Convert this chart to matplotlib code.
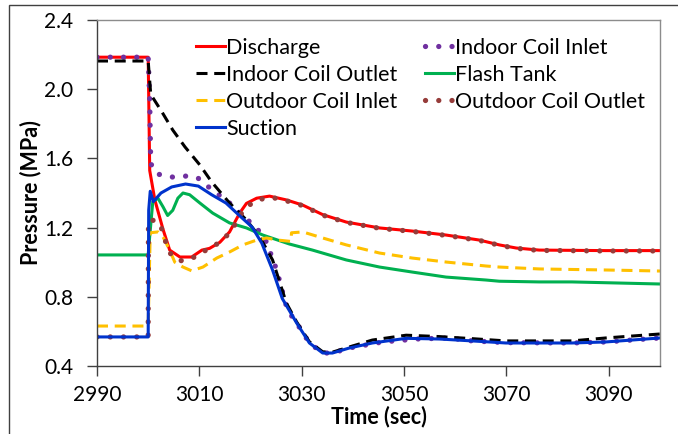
import matplotlib
matplotlib.use("Agg")
import matplotlib.pyplot as plt
from matplotlib.patches import Rectangle

plt.rcParams['font.family'] = ['Lato', 'DejaVu Sans']

# ---- data (time in s, pressure in MPa) ----
t_dis = [2990, 3000, 3000.3, 3001.3, 3002.9, 3004.2, 3006.2, 3008.5, 3010.5, 3012, 3014, 3015.9,
         3017.9, 3019.2, 3021.2, 3023.7, 3027, 3030.2, 3034.1, 3038.7, 3045.2, 3051.6, 3058.2,
         3064.7, 3068.6, 3071.9, 3076.4, 3089.4, 3100]
p_dis = [2.185, 2.185, 1.53, 1.36, 1.19, 1.07, 1.03, 1.03, 1.07, 1.08, 1.115, 1.175,
         1.285, 1.34, 1.37, 1.382, 1.36, 1.33, 1.275, 1.232, 1.198, 1.18, 1.157,
         1.128, 1.10, 1.082, 1.07, 1.067, 1.067]

t_ici = [2990, 3000, 3000.3, 3000.5, 3001.7, 3004.8, 3007.5, 3009.7, 3012, 3015.9, 3017.9, 3021.2,
         3023.1, 3025.1, 3027.2, 3029, 3031.5, 3034.1, 3036, 3039.3, 3045.8, 3052.4, 3058.8,
         3063.3, 3069.9, 3082.8, 3089.4, 3100]
p_ici = [2.185, 2.185, 1.94, 1.57, 1.51, 1.492, 1.498, 1.487, 1.43, 1.342, 1.284, 1.198,
         1.117, 0.955, 0.724, 0.649, 0.533, 0.475, 0.475, 0.504, 0.539, 0.556, 0.562,
         0.545, 0.535, 0.533, 0.539, 0.562]

t_ico = [2990, 3000, 3000.5, 3002.7, 3004.8, 3007.2, 3010.1, 3012.4, 3015.9, 3019.2, 3021.8, 3024.3,
         3027, 3029, 3031.5, 3034.1, 3036, 3039.3, 3043.8, 3050.4, 3056.9, 3063.3, 3069.9,
         3082.8, 3089.4, 3100]
p_ico = [2.163, 2.163, 1.97, 1.868, 1.764, 1.666, 1.562, 1.464, 1.342, 1.244, 1.146, 1.013,
         0.764, 0.655, 0.54, 0.482, 0.48, 0.51, 0.55, 0.578, 0.57, 0.558, 0.545,
         0.545, 0.562, 0.585]

t_ft = [2990, 3000, 3000.3, 3000.9, 3001.9, 3002.9, 3003.8, 3004.8, 3005.8, 3006.8, 3008.1, 3010.1,
        3012.6, 3015.9, 3019.2, 3022.4, 3025.7, 3027.6, 3032.1, 3038.7, 3045.2, 3051.6, 3058.2,
        3066.0, 3068.6, 3076.4, 3082.8, 3100]
p_ft = [1.042, 1.042, 1.15, 1.35, 1.37, 1.32, 1.27, 1.30, 1.37, 1.40, 1.39, 1.342,
        1.284, 1.227, 1.198, 1.157, 1.124, 1.105, 1.07, 1.013, 0.972, 0.943, 0.914,
        0.897, 0.89, 0.886, 0.886, 0.874]

t_oci = [2990, 3000, 3000.4, 3001.9, 3002.9, 3004.2, 3005.2, 3006.8, 3008.5, 3010.7, 3013.4, 3015.9,
         3018.5, 3021.2, 3023.1, 3025.3, 3027.9, 3028.0, 3030.2, 3034.1, 3038.7, 3045.2, 3051.6,
         3058.2, 3066.0, 3068.6, 3076.4, 3089.4, 3100]
p_oci = [0.631, 0.631, 1.17, 1.175, 1.146, 1.07, 1.0, 0.972, 0.95, 0.972, 1.024, 1.059,
         1.10, 1.128, 1.14, 1.128, 1.12, 1.17, 1.175, 1.14, 1.10, 1.053, 1.024,
         1.001, 0.978, 0.972, 0.961, 0.955, 0.949]

t_oco = [2990, 3000, 3000.05, 3000.7, 3002.3, 3003.6, 3004.6, 3006.6, 3008.7, 3010.5, 3012, 3014,
         3015.5, 3016.9, 3018.8, 3021.2, 3024.1, 3027, 3030.2, 3034.1, 3038.7, 3045.2, 3051.6,
         3058.2, 3064.7, 3068.6, 3071.9, 3076.4, 3089.4, 3100]
p_oco = [0.568, 0.568, 1.24, 1.245, 1.225, 1.10, 1.035, 1.007, 1.024, 1.06, 1.076, 1.117,
         1.157, 1.215, 1.31, 1.36, 1.375, 1.355, 1.327, 1.272, 1.23, 1.196, 1.178,
         1.155, 1.126, 1.098, 1.08, 1.068, 1.065, 1.065]

t_suc = [2990, 3000, 3000.1, 3000.4, 3001, 3002.5, 3004.6, 3007.3, 3009.8, 3012.4, 3015.2, 3017.7,
         3020.3, 3022.2, 3024.3, 3026.2, 3029, 3031.5, 3034.1, 3036, 3039.3, 3043.8, 3050.4,
         3056.9, 3063.3, 3069.9, 3076.4, 3082.8, 3089.4, 3100]
p_suc = [0.568, 0.568, 1.30, 1.41, 1.35, 1.40, 1.435, 1.452, 1.44, 1.39, 1.342, 1.273,
         1.203, 1.11, 0.955, 0.79, 0.649, 0.533, 0.475, 0.475, 0.504, 0.533, 0.56,
         0.556, 0.545, 0.533, 0.533, 0.533, 0.539, 0.562]

xticks = [2990, 3010, 3030, 3050, 3070, 3090]
yticks = [0.4, 0.8, 1.2, 1.6, 2.0, 2.4]

W, H = 678, 434
fig = plt.figure(figsize=(W / 100, H / 100), dpi=100)
# chart-area border like the spreadsheet frame
fig.patches.append(Rectangle((9 / W, -0.1), 1.2, 1 - 5 / H + 0.1, transform=fig.transFigure,
                             fill=False, edgecolor='#404040', linewidth=1.0))
ax = fig.add_axes([97 / W, (H - 366) / H, 563 / W, 346 / H])

lw = 2.2
dots = (0, (0.01, 2.5))
dash = (0, (3.6, 2.2))
h_dis, = ax.plot(t_dis, p_dis, color='#FF0000', lw=lw, label='Discharge')
h_ici, = ax.plot(t_ici, p_ici, color='#7030A0', lw=3.8, ls=dots, dash_capstyle='round',
                 label='Indoor Coil Inlet')
h_ico, = ax.plot(t_ico, p_ico, color='black', lw=lw, ls=dash, label='Indoor Coil Outlet')
h_ft, = ax.plot(t_ft, p_ft, color='#00B050', lw=lw, label='Flash Tank')
h_oci, = ax.plot(t_oci, p_oci, color='#FFC000', lw=lw, ls=dash, label='Outdoor Coil Inlet')
h_oco, = ax.plot(t_oco, p_oco, color='#963C3A', lw=3.8, ls=dots, dash_capstyle='round',
                 label='Outdoor Coil Outlet')
h_suc, = ax.plot(t_suc, p_suc, color='#0033CC', lw=lw, label='Suction')

ax.set_xlim(2990, 3100)
ax.set_ylim(0.4, 2.4)
ax.set_xticks(xticks)
ax.set_yticks(yticks)
ax.set_yticklabels(['%.1f' % v for v in yticks])
ax.tick_params(labelsize=15, length=7, width=1, color='#404040')
ax.tick_params(axis='x', pad=7)
ax.tick_params(axis='y', pad=10)
for s in ['left', 'bottom']:
    ax.spines[s].set_color('#404040')
for s in ['top', 'right']:
    ax.spines[s].set_color('#8c8c8c')
for s in ax.spines.values():
    s.set_linewidth(1.0)

ax.set_xlabel('Time (sec)', fontsize=15.5, fontweight='bold', labelpad=0)
ax.set_ylabel('Pressure (MPa)', fontsize=15.5, fontweight='bold', labelpad=2)

handles = [h_dis, h_ico, h_oci, h_suc, h_ici, h_ft, h_oco]
ax.legend(handles=handles, labels=[h.get_label() for h in handles], ncol=2, frameon=False,
          fontsize=15.5, handlelength=1.35, handletextpad=0.05, columnspacing=1.3,
          labelspacing=0.32, borderpad=0.2, loc='upper left', bbox_to_anchor=(0.149, 0.992))

fig.savefig('out.png', dpi=100)
